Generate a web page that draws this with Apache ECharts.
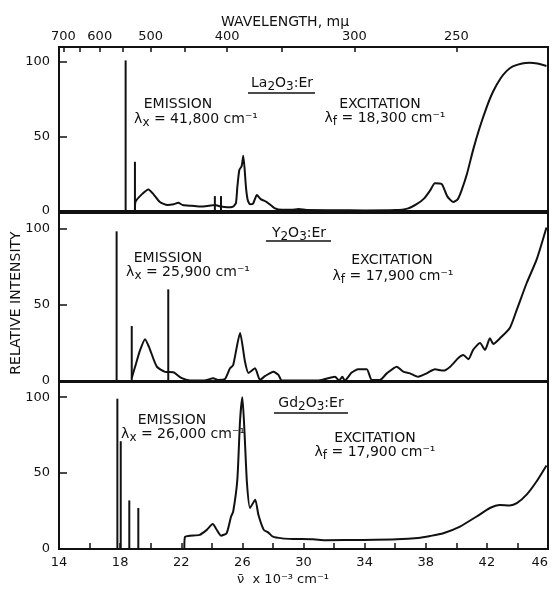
<!DOCTYPE html>
<html>
<head>
<meta charset="utf-8">
<script src="https://cdn.jsdelivr.net/npm/echarts@6/dist/echarts.min.js"></script>
<style>
  html, body { margin: 0; padding: 0; background: #fff; }
  #chart { width: 554px; height: 591px; }
</style>
</head>
<body>
<div id="chart"></div>
<script>
// Wavenumber range, in units of 10^3 cm^-1
const waveMin = 14;
const waveMax = 46;

// Bottom axis labels and top wavelength scale (mμ)
const wavenumberLabels = [14, 18, 22, 26, 30, 34, 38, 42, 46];
const wavelengthMajor = [700, 600, 500, 400, 300, 250];
const wavelengthMinor = [650, 550, 450, 350];
const intensityTicks = [0, 50, 100];

// La2O3:Er — emission lines and continuous spectrum
const laLineWave = [18.36, 18.97, 24.2, 24.6];
const laLineInt = [101, 33, 10, 10];
const laWave = [18.97, 19.0, 19.4, 19.85, 20.2, 20.6, 21.1, 21.5, 21.8, 22.1, 22.7, 23.3, 23.8, 24.2, 24.6, 25.0, 25.4, 25.58, 25.67, 25.8, 25.95, 26.06, 26.24, 26.35, 26.5, 26.7, 26.95, 27.2, 27.6, 28.1, 28.6, 29.2, 29.7, 30.2, 32, 34, 36, 36.8, 37.4, 37.9, 38.3, 38.6, 39.05, 39.4, 39.8, 40.1, 40.35, 40.7, 41.1, 41.5, 42.0, 42.4, 42.9, 43.3, 43.7, 44.3, 44.8, 45.3, 45.9];
const laInt = [0, 6, 11, 14.5, 11, 6, 4, 4.5, 5.5, 4, 3.5, 3, 3.5, 4, 3, 2.5, 3, 5.4, 16, 27.5, 30, 37, 15.4, 7.4, 4.5, 5, 10.7, 8, 6, 2, 0.8, 0.8, 1.3, 0.6, 0.5, 0.4, 0.6, 1.6, 4.6, 8.5, 14, 18.6, 18, 10, 6, 8, 14, 25, 41, 55, 70, 80, 89, 94, 97, 99, 99.5, 99, 97.3];

// Y2O3:Er
const yLineWave = [17.77, 18.76, 21.15];
const yLineInt = [98, 36, 60];
const yWave = [18.76, 19.0, 19.3, 19.63, 19.9, 20.4, 20.94, 21.48, 22.0, 22.57, 23.5, 24.1, 24.4, 24.86, 25.19, 25.4, 25.85, 26.17, 26.4, 26.83, 27.15, 27.5, 28.03, 28.36, 28.58, 29.5, 31, 32.06, 32.33, 32.54, 32.7, 33.15, 33.59, 34.14, 34.47, 35.0, 35.45, 36.1, 36.53, 36.97, 37.5, 38.06, 38.6, 39.15, 39.6, 40.13, 40.46, 40.79, 41.1, 41.55, 41.88, 42.2, 42.42, 42.86, 43.5, 43.96, 44.6, 45.26, 45.9];
const yInt = [2, 10, 20, 27.4, 22, 9.4, 6, 5.7, 2, 0.3, 0.3, 1.8, 0.7, 1.3, 8.3, 10.5, 31.4, 12.7, 5.3, 8.3, 0.7, 3.3, 6, 4, 0.3, 0.3, 0.3, 2.8, 0.3, 2.8, 0.3, 5.5, 7.7, 7.7, 0.7, 0.7, 5, 9.4, 6.1, 5, 2.8, 5, 7.7, 6.8, 9.4, 15, 17, 14.3, 20.4, 24.8, 20.4, 28, 24.3, 28, 34.7, 46.7, 64, 79.6, 100.5];

// Gd2O3:Er
const gdLineWave = [17.82, 18.04, 18.6, 19.19];
const gdLineInt = [99, 71, 32, 27];
const gdWave = [22.2, 22.25, 23.2, 23.67, 24.06, 24.3, 24.6, 24.97, 25.26, 25.4, 25.67, 25.85, 26.0, 26.14, 26.3, 26.5, 26.84, 27.05, 27.4, 27.7, 28.0, 28.6, 29.3, 30.6, 31.5, 33.9, 36.1, 37.5, 38.3, 39.15, 40.24, 41.33, 42.2, 42.86, 43.5, 43.96, 44.6, 45.26, 45.9];
const gdInt = [0, 8, 9.3, 12.6, 16.4, 13, 8.8, 10.4, 21.4, 24.7, 45.7, 85, 100, 76.8, 43.5, 27, 32.5, 22.5, 12.6, 10.8, 8.1, 7, 6.6, 6.4, 5.8, 6, 6.4, 7.3, 8.6, 10.4, 14.8, 21.4, 27, 29, 28.7, 30.2, 35.8, 44.6, 55];

const ink = '#111';
const font = 'DejaVu Sans';

const zip = (xs, ys) => xs.map((x, i) => [x, ys[i]]);
const toWavenumber = (nm) => 1e4 / nm;

const panels = [
  { lines: [laLineWave, laLineInt], curve: [laWave, laInt], top: 47, height: 164 },
  { lines: [yLineWave, yLineInt], curve: [yWave, yInt], top: 213, height: 168 },
  { lines: [gdLineWave, gdLineInt], curve: [gdWave, gdInt], top: 382, height: 167 }
];

const grid = panels.map(p => ({
  left: 59, right: 6, top: p.top, height: p.height,
  outerBoundsMode: 'none', containLabel: false,
  show: true, borderColor: ink, borderWidth: 2, backgroundColor: 'transparent'
}));

const xAxis = [];
const yAxis = [];
panels.forEach((p, i) => {
  const last = i === panels.length - 1;
  xAxis.push({
    type: 'value', gridIndex: i, min: waveMin, max: waveMax, interval: 2,
    axisLine: { show: false }, splitLine: { show: false },
    axisTick: { show: last, inside: true, length: 6, lineStyle: { color: ink, width: 1.5 } },
    axisLabel: {
      show: last, margin: 7, color: ink, fontFamily: font, fontSize: 13,
      alignMaxLabel: 'right',
      formatter: v => (wavenumberLabels.indexOf(v) >= 0 ? String(v) : '')
    }
  });
  yAxis.push({
    type: 'value', gridIndex: i, min: 0, max: 110,
    axisLine: { show: false }, splitLine: { show: false },
    axisTick: { show: true, inside: true, length: 8, customValues: intensityTicks, lineStyle: { color: ink, width: 1.5 } },
    axisLabel: { show: true, margin: 9, color: ink, fontFamily: font, fontSize: 13, customValues: intensityTicks }
  });
});

// Wavelength scale along the top of the upper panel
xAxis.push({
  type: 'value', gridIndex: 0, position: 'top', min: waveMin, max: waveMax,
  axisLine: { show: false }, splitLine: { show: false },
  axisTick: {
    show: true, inside: true, length: 5, lineStyle: { color: ink, width: 1.5 },
    customValues: wavelengthMajor.concat(wavelengthMinor).map(toWavenumber)
  },
  axisLabel: {
    show: true, margin: 4, color: ink, fontFamily: font, fontSize: 13,
    customValues: wavelengthMajor.map(toWavenumber),
    formatter: v => String(Math.round(1e4 / v))
  }
});

const series = [];
panels.forEach((p, i) => {
  series.push({
    type: 'bar', xAxisIndex: i, yAxisIndex: i, barWidth: 2,
    itemStyle: { color: ink }, silent: true,
    data: zip(p.lines[0], p.lines[1])
  });
  series.push({
    type: 'line', xAxisIndex: i, yAxisIndex: i, showSymbol: false, smooth: 0.2,
    lineStyle: { color: ink, width: 2 }, silent: true,
    data: zip(p.curve[0], p.curve[1])
  });
});

const textStyle = { fill: ink, fontFamily: font, fontSize: 14, align: 'center', verticalAlign: 'middle' };
const rich = {
  t: { fontFamily: font, fontSize: 14, fill: ink },
  s: { fontFamily: font, fontSize: 12, fill: ink, padding: [8, 0, 0, 0] }
};
function label(x, y, text, extra) {
  return { type: 'text', x, y, style: Object.assign({ text, rich }, textStyle, extra || {}) };
}
function rule(x1, x2, y) {
  return { type: 'line', shape: { x1, y1: y, x2, y2: y }, style: { stroke: ink, lineWidth: 1.5 } };
}

const axisTitle = label(16, 303, 'RELATIVE INTENSITY', { fontSize: 14 });
axisTitle.rotation = Math.PI / 2;

const graphic = [
  label(285, 22, 'WAVELENGTH, mμ'),
  label(283, 580, 'ν̄  x 10⁻³ cm⁻¹', { fontSize: 13 }),
  axisTitle,

  label(282, 83, '{t|La}{s|2}{t|O}{s|3}{t|:Er}'),
  rule(248, 315, 93),
  label(178, 104, 'EMISSION'),
  label(196, 119, '{t|λ}{s|x}{t| = 41,800 cm⁻¹}'),
  label(380, 104, 'EXCITATION'),
  label(385, 118, '{t|λ}{s|f}{t| = 18,300 cm⁻¹}'),

  label(299, 233, '{t|Y}{s|2}{t|O}{s|3}{t|:Er}'),
  rule(266, 331, 241),
  label(168, 258, 'EMISSION'),
  label(188, 272, '{t|λ}{s|x}{t| = 25,900 cm⁻¹}'),
  label(392, 260, 'EXCITATION'),
  label(393, 276, '{t|λ}{s|f}{t| = 17,900 cm⁻¹}'),

  label(311, 403, '{t|Gd}{s|2}{t|O}{s|3}{t|:Er}'),
  rule(274, 348, 413),
  label(172, 420, 'EMISSION'),
  label(183, 434, '{t|λ}{s|x}{t| = 26,000 cm⁻¹}'),
  label(375, 438, 'EXCITATION'),
  label(375, 452, '{t|λ}{s|f}{t| = 17,900 cm⁻¹}')
];

const chart = echarts.init(document.getElementById('chart'), null, { renderer: 'canvas' });
chart.setOption({
  animation: false,
  backgroundColor: '#fff',
  grid, xAxis, yAxis, series, graphic
});
</script>
</body>
</html>
